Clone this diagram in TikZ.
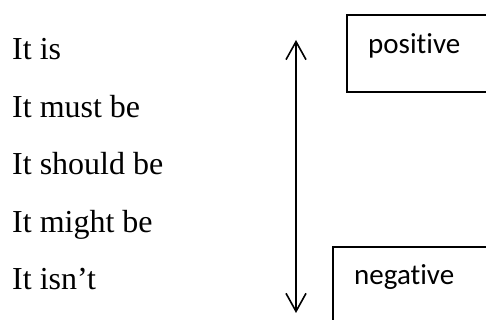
\documentclass[tikz,border=0pt]{standalone}
\usepackage{fontspec}
\setmainfont{Liberation Serif}
\newfontfamily\boxfont[Ligatures=NoCommon]{Carlito}
\usetikzlibrary{arrows.meta}

\tikzset{
  phrase/.style={anchor=base west, inner sep=0pt, font=\fontsize{32}{38}\selectfont},
  boxlabel/.style={anchor=base west, inner sep=0pt, font=\boxfont\fontsize{29}{35}\selectfont},
  frame/.style={line width=1.6pt},
  scalearrow/.style={line width=1.6pt, {Straight Barb[length=18pt,width=20pt,line width=1.6pt]}-{Straight Barb[length=18pt,width=20pt,line width=1.6pt]}}
}

\begin{document}
\begin{tikzpicture}[x=1pt,y=1pt]

\useasboundingbox (0,0) rectangle (486,320);

% the phrases
\node[phrase] (is)     at (12,260) {It is};
\node[phrase] (must)   at (12,202) {It must be};
\node[phrase] (should) at (12,145) {It should be};
\node[phrase] (might)  at (12,87)  {It might be};
\node[phrase] (isnt)   at (12,30)  {It isn’t};

% the scale
\coordinate (top) at (296,280);
\coordinate (bottom) at (296,7);
\draw[scalearrow] (bottom) -- (top);

% the boxes, cut off by the page
\draw[frame] (347,305) rectangle (520,228);
\draw[frame] (333,73) rectangle (520,-20);

\node[boxlabel] (pos) at (368,266) {positive};
\node[boxlabel] (neg) at (354,35)  {negative};

\end{tikzpicture}
\end{document}
